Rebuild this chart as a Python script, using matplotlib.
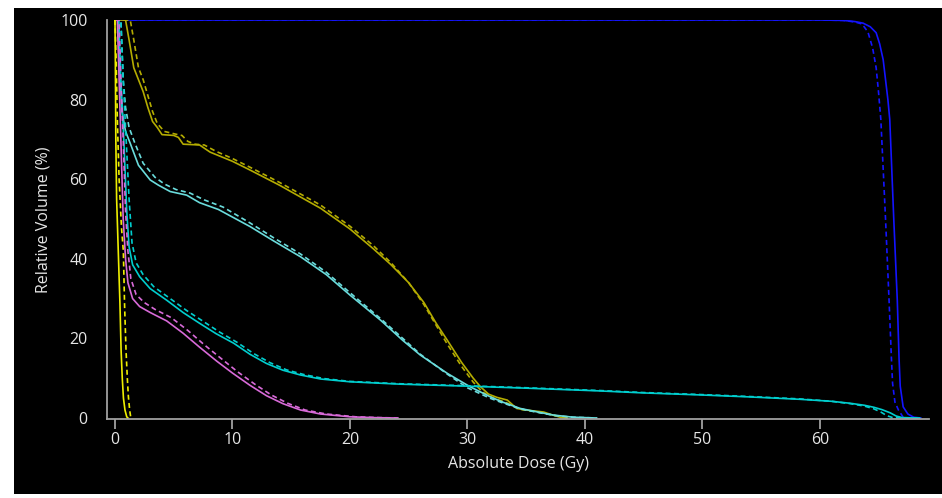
import matplotlib
matplotlib.use("Agg")
import matplotlib.pyplot as plt
from matplotlib.patches import Rectangle

plt.rcParams['font.family'] = ['Open Sans', 'DejaVu Sans']

# DVH curves: dose (Gy) / relative volume (%), plan (solid) and compare (dashed)
blue_dose = [0, 60, 62, 63, 63.7, 64.3, 64.8, 65.1, 65.4, 65.6, 65.8, 65.96, 66.3, 66.6, 66.75, 66.85,
             67.1, 67.5, 68.0, 68.6]
blue_vol = [100, 100, 99.9, 99.6, 99.2, 98.3, 96.8, 94, 90, 85, 80, 75, 50, 29.6, 15, 8, 2.8, 1, 0.2, 0]
blue_dose_d = [0, 60, 62, 63, 63.6, 64.1, 64.5, 64.8, 65.0, 65.2, 65.6, 65.9, 66.1, 66.2, 66.4, 66.7,
               67.1, 67.5]
blue_vol_d = [100, 100, 99.9, 99.5, 99, 97, 93, 88, 82, 75, 50, 29.6, 15, 8.7, 4, 2, 0.2, 0]

olive_dose = [0, 0.9, 1.2, 1.6, 2.0, 2.4, 2.8, 3.2, 3.6, 4.0, 5.0, 5.4, 5.8, 7.2, 8.1, 10, 11.5, 14, 17.5,
              20, 22, 23.5, 25, 26.3, 27.3, 28.3, 29.5, 30.5, 31.1, 31.8, 32.5, 33.4, 34.2, 35, 36.5,
              37.2, 37.9, 38.5]
olive_vol = [100, 100, 95, 88, 85, 82, 78, 74.5, 73, 71.2, 71, 70.5, 68.8, 68.6, 66.8, 64.5, 62.3, 58.5,
             52.7, 47.5, 42.5, 38.5, 34, 29, 24, 19.5, 14, 10, 7.9, 6, 5.2, 4.5, 2.4, 2, 1.5, 0.8, 0.2, 0]
olive_dose_d = [0, 1.3, 1.6, 2.0, 2.4, 2.8, 3.2, 3.6, 4.2, 5.2, 5.7, 6.2, 6.8, 7.6, 8.6, 10, 11.5, 14,
                17.5, 20, 22, 23.5, 25, 26.3, 27.3, 28.3, 29.5, 30.5, 31.3, 32.2, 33.2, 34.5, 36,
                37.5, 38.5]
olive_vol_d = [100, 100, 95, 88, 85, 81, 77, 74, 72, 71.3, 71, 69.5, 68.8, 68.6, 67, 65.2, 63, 59.2,
               53.5, 48.2, 43.3, 39, 34, 28.5, 23.5, 18.5, 13, 9, 6.5, 5, 4, 2.2, 1.5, 0.6, 0]

lcyan_dose = [0, 0.3, 0.45, 0.6, 0.9, 1.3, 2.0, 3.0, 3.7, 4.7, 6.1, 7.2, 8.8, 11.5, 13.5, 15.8, 18, 20,
              22.6, 24.5, 26, 28.3, 30.2, 31.9, 33, 34.5, 36, 37.3, 39, 41]
lcyan_vol = [100, 100, 85, 77, 72, 69, 63.5, 59.8, 58.5, 56.9, 56, 54.1, 52.4, 48.1, 44.5, 40.5, 36,
             30.9, 24.6, 19.5, 15.8, 11.2, 7.9, 5.4, 4, 2.4, 1.5, 0.75, 0.2, 0]
lcyan_dose_d = [0, 0.5, 0.7, 0.9, 1.2, 1.7, 2.4, 3.4, 4.2, 5.2, 6.4, 7.6, 9.2, 11.5, 13.5, 15.8, 18, 20,
                22.6, 24.5, 26, 28.3, 30, 31.9, 33, 34.5, 36, 37.5, 39, 41]
lcyan_vol_d = [100, 100, 85, 78, 73, 69, 64, 60.5, 58.8, 57.4, 56.5, 54.8, 53, 49, 45.3, 41.2, 36.6,
               31.5, 25, 20, 16, 11, 7.6, 5, 3.8, 2.3, 1.4, 0.6, 0.2, 0]

cyan_dose = [0, 0.3, 0.5, 0.75, 1.0, 1.2, 1.5, 2.1, 3, 4.4, 5.8, 7.2, 8.6, 10.1, 11.5, 12.9, 14.3, 15.8,
             17.5, 20, 24.3, 30, 35, 41.3, 45, 49.8, 54, 58.3, 61, 62.6, 63.8, 64.6, 65.3, 66.0,
             66.5, 67, 68.5]
cyan_vol = [100, 100, 85, 70, 52, 43, 38.5, 35.5, 32.5, 29.6, 26.5, 23.8, 21.2, 18.8, 16, 13.7, 12,
            10.8, 9.8, 9.1, 8.5, 8.0, 7.5, 6.8, 6.3, 5.8, 5.3, 4.7, 4.2, 3.7, 3.2, 2.7, 2.1, 1.3,
            0.5, 0.1, 0]
cyan_dose_d = [0, 0.5, 0.7, 0.95, 1.2, 1.45, 1.8, 2.4, 3.3, 4.7, 6.1, 7.5, 8.9, 10.4, 11.8, 13.2, 14.6,
               16.1, 17.8, 20, 24.3, 30, 35, 41.3, 45, 49.8, 54, 58.3, 61, 62.6, 63.8, 64.6, 65.2,
               65.7, 66.2, 68.5]
cyan_vol_d = [100, 100, 85, 70, 55, 44, 39, 36, 33, 30, 27, 24.3, 21.6, 19, 16.2, 13.9, 12.1, 10.9,
              9.9, 9.2, 8.6, 8.1, 7.6, 6.9, 6.4, 5.9, 5.4, 4.8, 4.2, 3.6, 3.0, 2.3, 1.5, 0.6, 0.1, 0]

mag_dose = [0, 0.2, 0.35, 0.5, 0.7, 0.9, 1.1, 1.5, 2.1, 3, 4.4, 5.8, 7.2, 8.7, 10, 11.5, 12.9, 14.3,
            15.8, 17.5, 20, 22, 24]
mag_vol = [100, 100, 85, 70, 50, 40, 34, 30, 28, 26.5, 24.4, 21.3, 17.8, 14.2, 11.3, 8.2, 5.6, 3.6,
           2.0, 1.0, 0.3, 0.1, 0]
mag_dose_d = [0, 0.35, 0.5, 0.7, 0.9, 1.1, 1.35, 1.8, 2.5, 3.4, 4.8, 6.2, 7.6, 9.1, 10.4, 11.9, 13.3,
              14.7, 16.2, 18, 20.5, 22.5, 24.2]
mag_vol_d = [100, 100, 85, 70, 52, 42, 35, 31, 29, 27.3, 25.2, 22, 18.4, 14.8, 11.7, 8.5, 5.8, 3.7,
             2.0, 1.0, 0.3, 0.1, 0]

yel_dose = [0, 0.03, 0.07, 0.14, 0.3, 0.42, 0.52, 0.62, 0.72, 0.85, 1.0, 1.1]
yel_vol = [100, 90, 70, 55, 40, 29, 17, 10, 5, 2, 0.3, 0]
yel_dose_d = [0, 0.1, 0.2, 0.35, 0.55, 0.71, 0.82, 0.94, 1.05, 1.14, 1.25, 1.34, 1.4]
yel_vol_d = [100, 90, 75, 60, 48, 42, 28, 17, 10, 5.4, 2, 0.2, 0]

xticks = [0, 10, 20, 30, 40, 50, 60]
yticks = [0, 20, 40, 60, 80, 100]

fig = plt.figure(figsize=(9.42, 4.98), dpi=100, facecolor='white')
fig.patches.append(Rectangle((14 / 942, 4 / 498), 928 / 942, 486 / 498,
                             transform=fig.transFigure, facecolor='black', edgecolor='none', zorder=-10))
ax = fig.add_axes([107 / 942, (498 - 419) / 498, (929 - 107) / 942, 399 / 498])
ax.set_facecolor('black')

lw = 1.2
dash = (0, (3, 2))
series = [
    (blue_dose, blue_vol, blue_dose_d, blue_vol_d, '#1414ff'),
    (olive_dose, olive_vol, olive_dose_d, olive_vol_d, '#b4ac00'),
    (lcyan_dose, lcyan_vol, lcyan_dose_d, lcyan_vol_d, '#6adcdc'),
    (cyan_dose, cyan_vol, cyan_dose_d, cyan_vol_d, '#00cece'),
    (mag_dose, mag_vol, mag_dose_d, mag_vol_d, '#d86ad8'),
    (yel_dose, yel_vol, yel_dose_d, yel_vol_d, '#eeee00'),
]
for xs, ys, xd, yd, c in series:
    ax.plot(xs, ys, color=c, lw=lw)
    ax.plot(xd, yd, color=c, lw=lw, linestyle=dash)

ax.set_xlim(-0.68, 69.3)
ax.set_ylim(-0.25, 100)
ax.set_xticks(xticks)
ax.set_yticks(yticks)

for side in ['top', 'right']:
    ax.spines[side].set_visible(False)
for side in ['left', 'bottom']:
    ax.spines[side].set_color('#a0a0a0')
    ax.spines[side].set_linewidth(1.3)

fs = 11.5
ax.tick_params(axis='x', colors='#a0a0a0', length=7, width=1.3, pad=2, labelcolor='#e6e6e6', labelsize=fs)
ax.tick_params(axis='y', length=0, pad=14, labelcolor='#e6e6e6', labelsize=fs)

ax.set_xlabel('Absolute Dose (Gy)', color='#e6e6e6', fontsize=fs)
ax.set_ylabel('Relative Volume (%)', color='#e6e6e6', fontsize=fs)
ax.xaxis.set_label_coords(0.501, -0.093)
ax.yaxis.set_label_coords(-0.068, 0.5)

fig.savefig('out.png', dpi=100, facecolor='white')
